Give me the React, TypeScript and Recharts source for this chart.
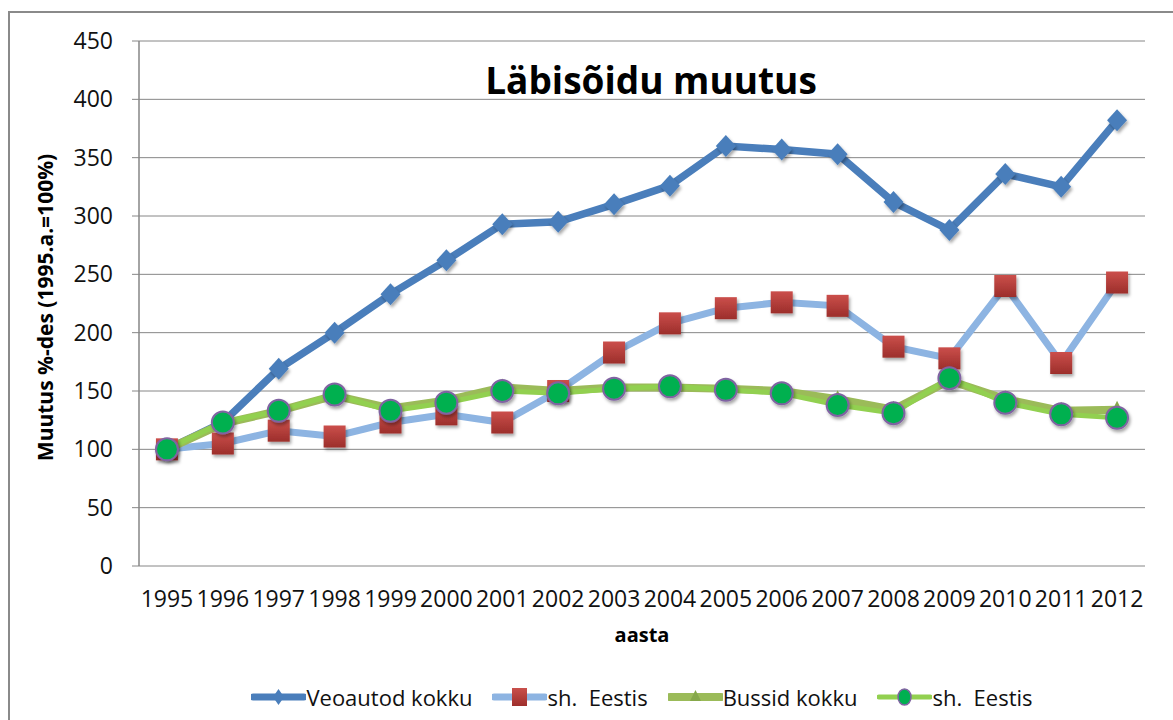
import { CartesianGrid, Line, LineChart, XAxis, YAxis } from "recharts";

const YEARS = ["1995", "1996", "1997", "1998", "1999", "2000", "2001", "2002", "2003", "2004", "2005", "2006", "2007", "2008", "2009", "2010", "2011", "2012"];
const VEOAUTOD = [100, 123, 169, 200, 233, 262, 293, 295, 310, 326, 360, 357, 353, 312, 288, 336, 325, 382];
const VEO_EESTIS = [100, 105, 116, 111, 123, 130, 123, 150, 183, 208, 221, 226, 223, 188, 178, 240, 174, 243];
const BUSSID = [100, 122, 133, 146, 135, 142, 153, 150, 153, 153, 152, 150, 143, 134, 159, 143, 133, 134];
const BUSS_EESTIS = [100, 123, 133, 147, 133, 140, 150, 148, 152, 154, 151, 148, 138, 131, 161, 140, 130, 127];
const Y_TICKS = [0, 50, 100, 150, 200, 250, 300, 350, 400, 450];

const CENTERS = YEARS.map((_, i) => i + 0.5);
const BOUNDS = [...YEARS.map((_, i) => i), YEARS.length];

const data = YEARS.map((year, i) => ({
  x: i + 0.5,
  year,
  veo: VEOAUTOD[i],
  veoEe: VEO_EESTIS[i],
  buss: BUSSID[i],
  bussEe: BUSS_EESTIS[i],
}));

const GRID = "#868686";
const TICK_FONT = "Open Sans, sans-serif";
const BOLD_FONT = "Open Sans, sans-serif";

const Diamond = (p: any) => {
  const { cx, cy, index } = p;
  if (cx == null || cy == null) return null;
  return (
    <path
      key={`dia-${index}`}
      d={`M${cx} ${cy - 11} L${cx + 10} ${cy} L${cx} ${cy + 11} L${cx - 10} ${cy} Z`}
      fill="#4A7EBB"
      filter="url(#shadow)"
    />
  );
};

const Square = (p: any) => {
  const { cx, cy, index } = p;
  if (cx == null || cy == null) return null;
  return (
    <rect
      key={`sq-${index}`}
      x={cx - 11}
      y={cy - 11}
      width={22}
      height={22}
      fill="url(#redGrad)"
      filter="url(#shadow)"
    />
  );
};

const Triangle = (p: any) => {
  const { cx, cy, index } = p;
  if (cx == null || cy == null) return null;
  return (
    <path
      key={`tri-${index}`}
      d={`M${cx} ${cy - 9} L${cx + 7} ${cy + 5} L${cx - 7} ${cy + 5} Z`}
      fill="#86A84A"
    />
  );
};

const Circle = (p: any) => {
  const { cx, cy, index } = p;
  if (cx == null || cy == null) return null;
  return (
    <circle
      key={`ci-${index}`}
      cx={cx}
      cy={cy}
      r={11}
      fill="#00B050"
      stroke="#8064A2"
      strokeWidth={2}
      filter="url(#shadow)"
    />
  );
};

const LEGEND = [
  { name: "Veoautod kokku", color: "#4A7EBB", width: 7, marker: "diamond" },
  { name: "sh.  Eestis", color: "#8DB4E2", width: 7, marker: "square" },
  { name: "Bussid kokku", color: "#9BBB59", width: 8, marker: "triangle" },
  { name: "sh.  Eestis", color: "#92D050", width: 5, marker: "circle" },
];

function LegendIcon({ color, width, marker }: { color: string; width: number; marker: string }) {
  return (
    <svg width={55} height={22} style={{ display: "block" }}>
      <line x1={2} y1={11} x2={53} y2={11} stroke={color} strokeWidth={width} strokeLinecap="round" />
      {marker === "diamond" && <path d="M27.5 3 L33 11 L27.5 19 L22 11 Z" fill="#4A7EBB" />}
      {marker === "square" && <rect x={20} y={2} width={15} height={18} fill="url(#redGradL)" />}
      {marker === "triangle" && <path d="M27.5 4 L33 15 L22 15 Z" fill="#86A84A" />}
      {marker === "circle" && (
        <ellipse cx={27.5} cy={11} rx={6.5} ry={8} fill="#00B050" stroke="#8064A2" strokeWidth={1.5} />
      )}
      <defs>
        <linearGradient id="redGradL" x1="0" y1="0" x2="0" y2="1">
          <stop offset="0%" stopColor="#C9504C" />
          <stop offset="100%" stopColor="#9E2F2C" />
        </linearGradient>
      </defs>
    </svg>
  );
}

export default function App() {
  return (
    <div
      style={{
        position: "absolute",
        left: 0,
        top: 0,
        width: 1173,
        height: 720,
        overflow: "hidden",
        background: "#fff",
      }}
    >
      <div
        style={{
          position: "absolute",
          left: 8,
          top: 11,
          width: 1400,
          height: 900,
          borderTop: "2px solid #8a8a8a",
          borderLeft: "2px solid #8a8a8a",
        }}
      />
      <LineChart
        width={1173}
        height={720}
        data={data}
        margin={{ top: 41, right: 28, left: 0, bottom: 74 }}
        style={{ position: "absolute", left: 0, top: 0 }}
      >
        <defs>
          <linearGradient id="redGrad" x1="0" y1="0" x2="0" y2="1">
            <stop offset="0%" stopColor="#CB4F4B" />
            <stop offset="100%" stopColor="#9C2E2B" />
          </linearGradient>
          <filter id="shadow" x="-50%" y="-50%" width="200%" height="200%">
            <feDropShadow dx="1.5" dy="2.5" stdDeviation="1.8" floodColor="#000" floodOpacity="0.35" />
          </filter>
        </defs>
        <CartesianGrid xAxisId="lab" vertical={false} stroke={GRID} strokeWidth={1} />
        <XAxis
          xAxisId="grid"
          type="number"
          dataKey="x"
          domain={[0, 18]}
          ticks={BOUNDS}
          interval={0}
          tick={false}
          tickSize={8}
          height={0}
          axisLine={{ stroke: GRID, strokeWidth: 1 }}
          tickLine={{ stroke: GRID, strokeWidth: 1.5 }}
        />
        <XAxis
          xAxisId="lab"
          type="number"
          dataKey="x"
          domain={[0, 18]}
          ticks={CENTERS}
          interval={0}
          tickFormatter={(v: number) => YEARS[Math.round(v - 0.5)]}
          axisLine={false}
          tickLine={false}
          tickSize={0}
          tickMargin={25}
          height={80}
          tick={{ fontSize: 23, fill: "#111", fontFamily: TICK_FONT }}
          label={{
            content: (props: any) => {
              const vb = props.viewBox;
              return (
                <text
                  x={vb.x + vb.width / 2}
                  y={vb.y + 76}
                  textAnchor="middle"
                  fontFamily={BOLD_FONT}
                  fontWeight="bold"
                  fontSize={20}
                  fill="#000"
                >
                  aasta
                </text>
              );
            },
          }}
        />
        <YAxis
          type="number"
          domain={[0, 450]}
          ticks={Y_TICKS}
          interval={0}
          width={139}
          tickSize={7}
          tickMargin={19}
          axisLine={{ stroke: GRID, strokeWidth: 1.5 }}
          tickLine={{ stroke: GRID, strokeWidth: 1 }}
          tick={{ fontSize: 23, fill: "#111", fontFamily: TICK_FONT }}
          label={{
            content: (props: any) => {
              const vb = props.viewBox;
              const cy = vb.y + vb.height / 2 + 4;
              return (
                <text
                  x={45}
                  y={cy}
                  transform={`rotate(-90, 45, ${cy})`}
                  textAnchor="middle"
                  dominantBaseline="central"
                  fontFamily={BOLD_FONT}
                  fontWeight="bold"
                  fontSize={21}
                  fill="#000"
                >
                  Muutus %-des (1995.a.=100%)
                </text>
              );
            },
          }}
        />
        <Line
          xAxisId="lab"
          dataKey="veo"
          name="Veoautod kokku"
          stroke="#4A7EBB"
          strokeWidth={7.5}
          dot={Diamond}
          activeDot={false}
          isAnimationActive={false}
        />
        <Line
          xAxisId="lab"
          dataKey="veoEe"
          name="sh.  Eestis"
          stroke="#8DB4E2"
          strokeWidth={7}
          dot={Square}
          activeDot={false}
          isAnimationActive={false}
        />
        <Line
          xAxisId="lab"
          dataKey="buss"
          name="Bussid kokku"
          stroke="#9BBB59"
          strokeWidth={8}
          dot={Triangle}
          activeDot={false}
          isAnimationActive={false}
        />
        <Line
          xAxisId="lab"
          dataKey="bussEe"
          name="sh.  Eestis"
          stroke="#92D050"
          strokeWidth={5}
          dot={Circle}
          activeDot={false}
          isAnimationActive={false}
        />
      </LineChart>
      <svg
        width={1173}
        height={720}
        style={{ position: "absolute", left: 0, top: 0, pointerEvents: "none" }}
      >
        <text
          x={651}
          y={94}
          textAnchor="middle"
          fontFamily={BOLD_FONT}
          fontWeight="bold"
          fontSize={37}
          fill="#000"
        >
          Läbisõidu muutus
        </text>
      </svg>
      <div
        style={{
          position: "absolute",
          left: 139,
          width: 1006,
          top: 682,
          display: "flex",
          justifyContent: "center",
          alignItems: "center",
          fontFamily: TICK_FONT,
          fontSize: 22,
          color: "#111",
        }}
      >
        {LEGEND.map((s, i) => (
          <div key={i} style={{ display: "flex", alignItems: "center", marginRight: i < LEGEND.length - 1 ? 20 : 0 }}>
            <LegendIcon color={s.color} width={s.width} marker={s.marker} />
            <span style={{ whiteSpace: "pre" }}>{s.name}</span>
          </div>
        ))}
      </div>
    </div>
  );
}
